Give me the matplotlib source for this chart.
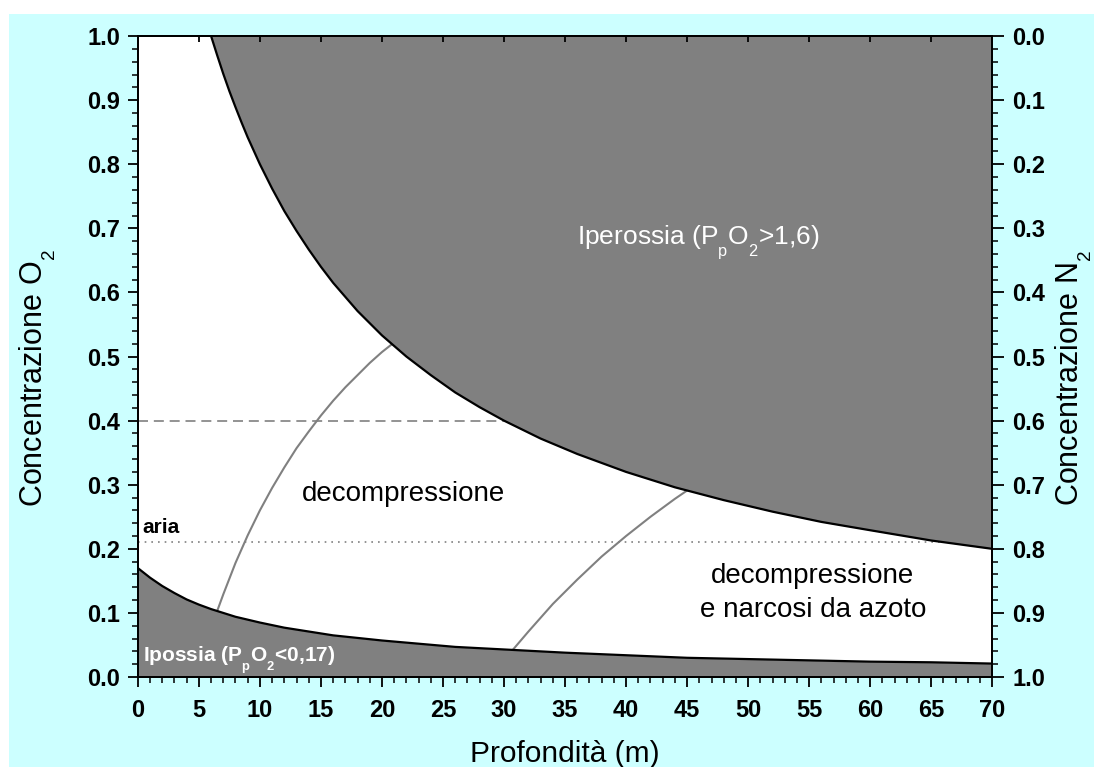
import numpy as np
import matplotlib
matplotlib.use('Agg')
from matplotlib import pyplot as plt
from matplotlib.patches import Rectangle
from matplotlib.ticker import MultipleLocator, FormatStrFormatter
import matplotlib._mathtext as mt

plt.rcParams['font.family'] = ['Liberation Sans', 'DejaVu Sans']
plt.rcParams['mathtext.fontset'] = 'custom'
plt.rcParams['mathtext.rm'] = 'Liberation Sans'
plt.rcParams['mathtext.bf'] = 'Liberation Sans:bold'
# pedici piu' piccoli e piu' bassi, come nell'originale
mt.SHRINK_FACTOR = 0.62
mt.FontConstantsBase.sub1 = 0.8

# limite iperossia (PpO2 = 1.6)
hyper_depth = [6, 6.5, 7, 7.5, 8, 8.5, 9, 10, 11, 12, 13, 14, 15, 16, 18, 20, 22, 24,
               26, 28, 30, 33, 36, 40, 44, 48, 52, 56, 60, 65, 70]
hyper_o2 = [1.0, 0.970, 0.941, 0.914, 0.889, 0.865, 0.842, 0.800, 0.762, 0.727,
            0.696, 0.667, 0.640, 0.615, 0.571, 0.533, 0.500, 0.471, 0.444, 0.421,
            0.400, 0.372, 0.348, 0.320, 0.296, 0.276, 0.258, 0.242, 0.229, 0.213,
            0.200]

# limite ipossia (PpO2 = 0.17)
hypo_depth = [0, 1, 2, 3, 4, 5, 6, 8, 10, 12, 14, 16, 18, 20, 23, 26, 30, 35, 40, 45,
              50, 55, 60, 65, 70]
hypo_o2 = [0.170, 0.155, 0.142, 0.131, 0.121, 0.113, 0.106, 0.094, 0.085, 0.077,
           0.071, 0.065, 0.061, 0.057, 0.052, 0.047, 0.043, 0.038, 0.034, 0.030,
           0.028, 0.026, 0.024, 0.023, 0.021]

# curve grigie (decompressione / narcosi)
deco_depth = [6.5, 7, 8, 9, 10, 11, 12, 13, 14, 15, 16, 17, 18, 19, 20, 20.8]
deco_o2 = [0.103, 0.129, 0.178, 0.221, 0.260, 0.295, 0.327, 0.357, 0.383, 0.408,
           0.431, 0.452, 0.471, 0.490, 0.507, 0.519]
narc_depth = [30.7, 32, 34, 36, 38, 40, 42, 44, 45]
narc_o2 = [0.042, 0.071, 0.114, 0.152, 0.188, 0.220, 0.250, 0.278, 0.291]

o2_max_line = 0.4
o2_max_depth = 30
o2_air = 0.21
air_depth = 66.2

fig = plt.figure(figsize=(10.94, 7.67), dpi=100)
fig.patch.set_facecolor('white')
fig.patches.append(Rectangle((9 / 1094, 0), 1, 1 - 14 / 767, transform=fig.transFigure,
                             facecolor='#ccffff', edgecolor='none', zorder=-10))

ax = fig.add_axes([0.126, 0.1173, 0.781, 0.8357])
ax.set_facecolor('white')
grey = '#808080'

ax.fill_between(hyper_depth, hyper_o2, 1.0, color=grey, lw=0)
ax.fill_between(hypo_depth, 0, hypo_o2, color=grey, lw=0)
ax.plot(hyper_depth, hyper_o2, color='black', lw=1.6, zorder=4)
ax.plot(hypo_depth, hypo_o2, color='black', lw=1.6, zorder=4)

ax.plot(deco_depth, deco_o2, color=grey, lw=1.5, zorder=3)
ax.plot(narc_depth, narc_o2, color=grey, lw=1.5, zorder=3)

ax.plot([0, o2_max_depth], [o2_max_line, o2_max_line], color=grey, lw=1.2,
        dashes=(6, 3.5), zorder=2)
ax.plot([0, air_depth], [o2_air, o2_air], color=grey, lw=1.2, dashes=(1, 3), zorder=2)

ax.set_xlim(0, 70)
ax.set_ylim(0, 1)

ax.text(21.76, 0.2746, 'decompressione', fontsize=20, ha='center', va='baseline')
ax.text(55.3, 0.1466, 'decompressione', fontsize=20, ha='center', va='baseline')
ax.text(55.3, 0.0936, 'e narcosi da azoto', fontsize=20, ha='center', va='baseline')
ax.text(45.9, 0.6755, r'Iperossia (P$_\mathrm{p}$O$_2$>1,6)', fontsize=19, ha='center',
        va='baseline', color='white')
ax.text(0.4, 0.0234, r'Ipossia (P$_\mathbf{p}$O$_\mathbf{2}$<0,17)', fontsize=15,
        fontweight='bold', ha='left', va='baseline', color='white')
ax.text(0.4, 0.2246, 'aria', fontsize=15, fontweight='bold', ha='left', va='baseline')

ax.set_xlabel('Profondità (m)', fontsize=21.5, labelpad=13)
ax.set_ylabel(r'Concentrazione O$_2$', fontsize=22)
ax.yaxis.set_label_coords(-0.093, 0.466)

ax.xaxis.set_major_locator(MultipleLocator(5))
ax.xaxis.set_minor_locator(MultipleLocator(1))
ax.yaxis.set_major_locator(MultipleLocator(0.1))
ax.yaxis.set_minor_locator(MultipleLocator(0.02))
ax.tick_params(axis='both', which='major', direction='out', length=7.5, width=1.3,
               labelsize=17, pad=5)
ax.tick_params(axis='x', which='major', pad=8)
ax.tick_params(axis='both', which='minor', direction='out', length=4, width=1.1)
ax.tick_params(axis='x', which='major', top=True, labeltop=False)
ax.tick_params(axis='x', which='minor', top=False)
ax.yaxis.set_major_formatter(FormatStrFormatter('%.1f'))
for lab in ax.get_xticklabels() + ax.get_yticklabels():
    lab.set_fontweight('bold')

ax2 = ax.twinx()
ax2.set_ylim(1, 0)
ax2.yaxis.set_major_locator(MultipleLocator(0.1))
ax2.yaxis.set_minor_locator(MultipleLocator(0.02))
ax2.yaxis.set_major_formatter(FormatStrFormatter('%.1f'))
ax2.tick_params(axis='y', which='major', direction='out', length=8.5, width=1.3,
                labelsize=17, pad=6)
ax2.tick_params(axis='y', which='minor', direction='out', length=4.5, width=1.1)
for lab in ax2.get_yticklabels():
    lab.set_fontweight('bold')
ax2.set_ylabel(r'Concentrazione N$_2$', fontsize=22)
ax2.yaxis.set_label_coords(1.072, 0.466)

# tick interni sul bordo superiore
for t in ax.xaxis.get_major_ticks():
    t.tick2line.set_marker(3)
    t.tick2line.set_markersize(4)

for a in (ax, ax2):
    for s in a.spines.values():
        s.set_linewidth(1.4)

fig.savefig('out.png', dpi=100, facecolor=fig.get_facecolor())
